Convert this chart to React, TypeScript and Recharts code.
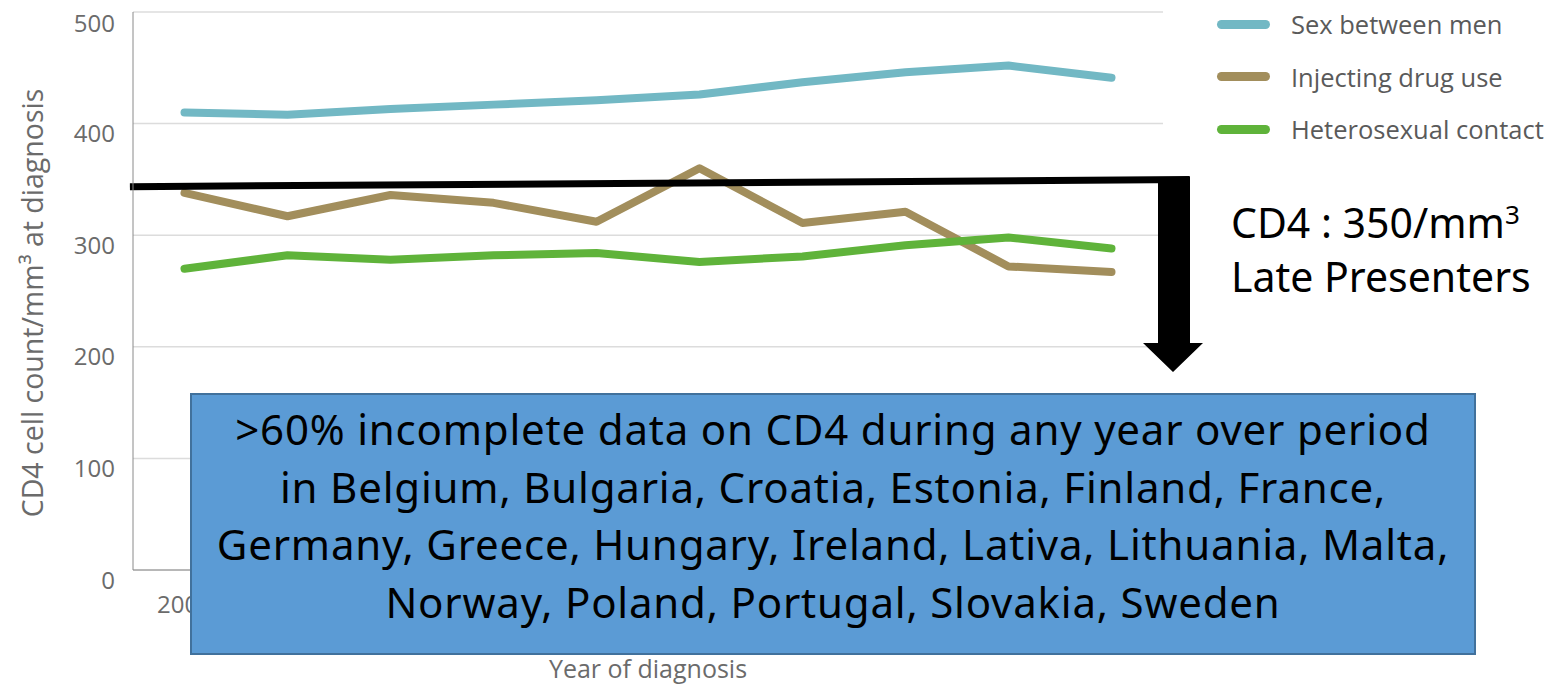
import React from 'react';
import {
  ComposedChart,
  Line,
  XAxis,
  YAxis,
  CartesianGrid,
  Legend,
  ReferenceLine,
  Label
} from 'recharts';

// CD4 count at diagnosis by transmission mode
const years = [2004, 2005, 2006, 2007, 2008, 2009, 2010, 2011, 2012, 2013];
const sexBetweenMen = [410, 408, 413, 417, 421, 426, 437, 446, 452, 441];
const injectingDrugUse = [338, 317, 336, 329, 312, 360, 311, 321, 272, 267];
const heterosexualContact = [270, 282, 278, 282, 284, 276, 281, 291, 298, 288];
const yTicks = [0, 100, 200, 300, 400, 500];

const seriesList = [
  { key: 'msm', label: 'Sex between men', color: '#72b8c4' },
  { key: 'idu', label: 'Injecting drug use', color: '#a28e5c' },
  { key: 'het', label: 'Heterosexual contact', color: '#5fb33a' }
];

const data = years.map((year, i) => ({
  year,
  msm: sexBetweenMen[i],
  idu: injectingDrugUse[i],
  het: heterosexualContact[i]
}));

const axisFont = '"Open Sans", "Noto Sans", sans-serif';
const slideFont = '"Noto Sans", "Open Sans", sans-serif';

const LegendBox = () => (
  <div style={{ fontFamily: axisFont }}>
    {seriesList.map((s) => (
      <div key={s.key} style={{ display: 'flex', alignItems: 'center', height: 52.5 }}>
        <div style={{ width: 53, height: 9, borderRadius: 5, background: s.color, marginRight: 21 }} />
        <span style={{ fontSize: 25.5, color: '#5a5a5a', whiteSpace: 'nowrap' }}>{s.label}</span>
      </div>
    ))}
  </div>
);

const YTitle = ({ viewBox }: any) => {
  const cx = viewBox.x + 32;
  const cy = viewBox.y + viewBox.height / 2 + 12;
  return (
    <text
      x={cx}
      y={cy}
      transform={`rotate(-90 ${cx} ${cy})`}
      textAnchor="middle"
      dominantBaseline="central"
      fill="#6b6b6b"
      fontSize={28.5}
      fontFamily={axisFont}
    >
      CD4 cell count/mm³ at diagnosis
    </text>
  );
};

export default function App() {
  return (
    <div style={{ position: 'absolute', left: 0, top: 0, width: 1556, height: 686, background: '#fff', overflow: 'hidden' }}>
      <ComposedChart
        width={1556}
        height={686}
        data={data}
        margin={{ top: 12, right: 393, left: 0, bottom: 8 }}
      >
        <CartesianGrid horizontal vertical={false} stroke="#dcdcdc" strokeWidth={1.5} />
        <XAxis
          dataKey="year"
          type="number"
          domain={[2003.5, 2013.5]}
          ticks={years}
          height={108}
          stroke="#8a8a8a"
          tickLine={false}
          tickSize={0}
          tickMargin={26}
          tick={{ fill: '#6b6b6b', fontSize: 24, fontFamily: axisFont }}
        >
          <Label
            value="Year of diagnosis"
            position="insideBottom"
            offset={0}
            style={{ fill: '#6b6b6b', fontSize: 25, fontFamily: axisFont }}
          />
        </XAxis>
        <YAxis
          domain={[0, 500]}
          ticks={yTicks}
          width={133}
          stroke="#8a8a8a"
          tickLine={false}
          tickSize={0}
          tickMargin={18}
          tick={{ fill: '#6b6b6b', fontSize: 24, fontFamily: axisFont, dy: 10 }}
        >
          <Label content={<YTitle />} />
        </YAxis>
        <Legend
          layout="horizontal"
          verticalAlign="middle"
          align="center"
          content={<LegendBox />}
          wrapperStyle={{ left: 1217, top: -2, width: 340 }}
        />
        {seriesList.map((s) => (
          <Line
            key={s.key}
            type="linear"
            dataKey={s.key}
            name={s.label}
            stroke={s.color}
            strokeWidth={8}
            strokeLinecap="round"
            strokeLinejoin="round"
            dot={false}
            activeDot={false}
            isAnimationActive={false}
          />
        ))}
        <ReferenceLine
          segment={[{ x: 2003.47, y: 343.5 }, { x: 2013.76, y: 349.8 }]}
          stroke="#000"
          strokeWidth={7}
          ifOverflow="visible"
        />
      </ComposedChart>

      {/* downward arrow */}
      <svg width={1556} height={686} style={{ position: 'absolute', left: 0, top: 0, pointerEvents: 'none' }}>
        <polygon points="1158,177 1190,177 1190,343 1203,343 1173,372 1143,343 1158,343" fill="#000" />
      </svg>

      <div
        style={{
          position: 'absolute',
          left: 1231,
          top: 195,
          fontFamily: slideFont,
          fontSize: 41,
          lineHeight: '54px',
          color: '#000',
          whiteSpace: 'nowrap'
        }}
      >
        <div>CD4 : 350/mm<sup style={{ fontSize: 26, verticalAlign: 'top', lineHeight: '38px' }}>3</sup></div>
        <div>Late Presenters</div>
      </div>

      <div
        style={{
          position: 'absolute',
          left: 190,
          top: 393,
          width: 1286,
          height: 262,
          boxSizing: 'border-box',
          background: '#5b9bd5',
          border: '2px solid #41719c',
          fontFamily: slideFont,
          fontSize: 42,
          letterSpacing: 0.8,
          lineHeight: '57.5px',
          textAlign: 'center',
          color: '#000',
          paddingTop: 5,
          whiteSpace: 'nowrap'
        }}
      >
        <div>&gt;60% incomplete data on CD4 during any year over period</div>
        <div>in Belgium, Bulgaria, Croatia, Estonia, Finland, France,</div>
        <div>Germany, Greece, Hungary, Ireland, Lativa, Lithuania, Malta,</div>
        <div>Norway, Poland, Portugal, Slovakia, Sweden</div>
      </div>
    </div>
  );
}
